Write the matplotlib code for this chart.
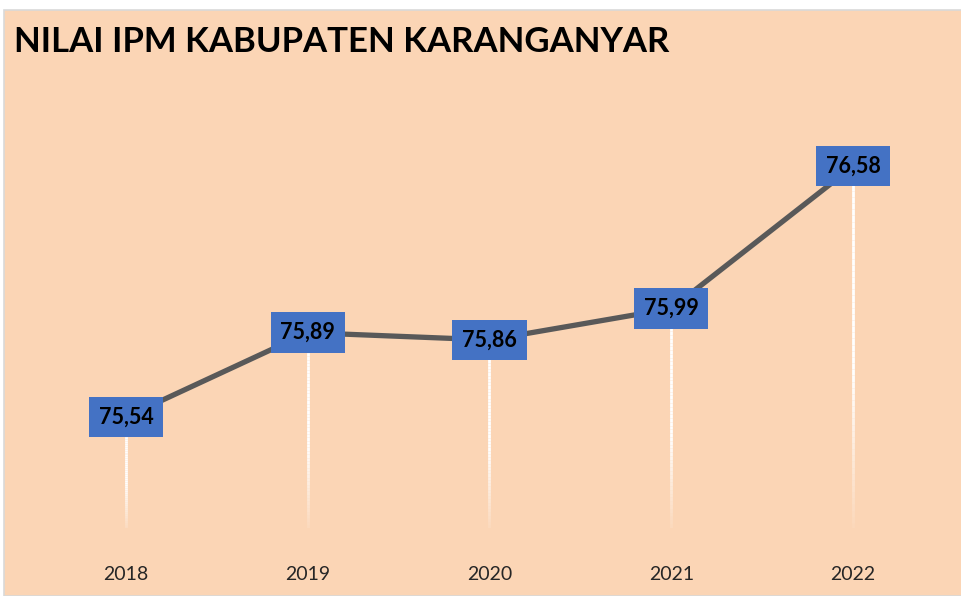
import matplotlib.pyplot as plt
import matplotlib.patches as mpatches
import numpy as np

years = ['2018', '2019', '2020', '2021', '2022']
ipm = [75.54, 75.89, 75.86, 75.99, 76.58]
labels = ['75,54', '75,89', '75,86', '75,99', '76,58']

bg = '#FBD5B5'

fig = plt.figure(figsize=(9.62, 5.96), dpi=100)
fig.patch.set_facecolor('white')

# chart area with thin gray border
area = mpatches.Rectangle((4 / 962, 0), 1, 1 - 10 / 596, transform=fig.transFigure,
                          facecolor=bg, edgecolor='#D9D9D9', linewidth=1.2, zorder=-5)
fig.patches.append(area)

ax = fig.add_axes([35 / 962, (596 - 528) / 596, 909 / 962, 428 / 596])
ax.set_facecolor('none')
x = np.arange(len(years))
ymin = 75.08
ax.set_xlim(-0.5, len(years) - 0.5)
ax.set_ylim(ymin, 76.855)

# fading white drop lines
for xi, yi in zip(x, ipm):
    n = 60
    ys = np.linspace(yi, ymin - 0.03, n + 1)
    for k in range(n):
        t = k / n
        a = 1.0 if t < 0.55 else max(0.0, 1 - (t - 0.55) / 0.45)
        ax.plot([xi, xi], [ys[k], ys[k + 1]], color='white', alpha=a,
                linewidth=2, solid_capstyle='butt', zorder=1)

ax.plot(x, ipm, color='#595959', linewidth=3.8, zorder=2, solid_capstyle='round')

for xi, yi, lab in zip(x, ipm, labels):
    ax.text(xi, yi, lab, ha='center', va='center', fontsize=15.5, fontweight='bold',
            family='Lato', color='black', zorder=3,
            bbox=dict(boxstyle='square,pad=0.45', facecolor='#4472C4', edgecolor='none'))

ax.set_xticks(x)
ax.set_xticklabels(years, fontsize=14, color='#262626', family='Lato')
ax.tick_params(axis='x', length=0, pad=27)
ax.set_yticks([])
for s in ax.spines.values():
    s.set_visible(False)

fig.text(14 / 962, 1 - 42 / 596, 'NILAI IPM KABUPATEN KARANGANYAR', fontsize=25,
         fontweight='bold', family='Lato', va='center', ha='left', color='black')

fig.savefig('out.png', dpi=100, facecolor=fig.get_facecolor())
